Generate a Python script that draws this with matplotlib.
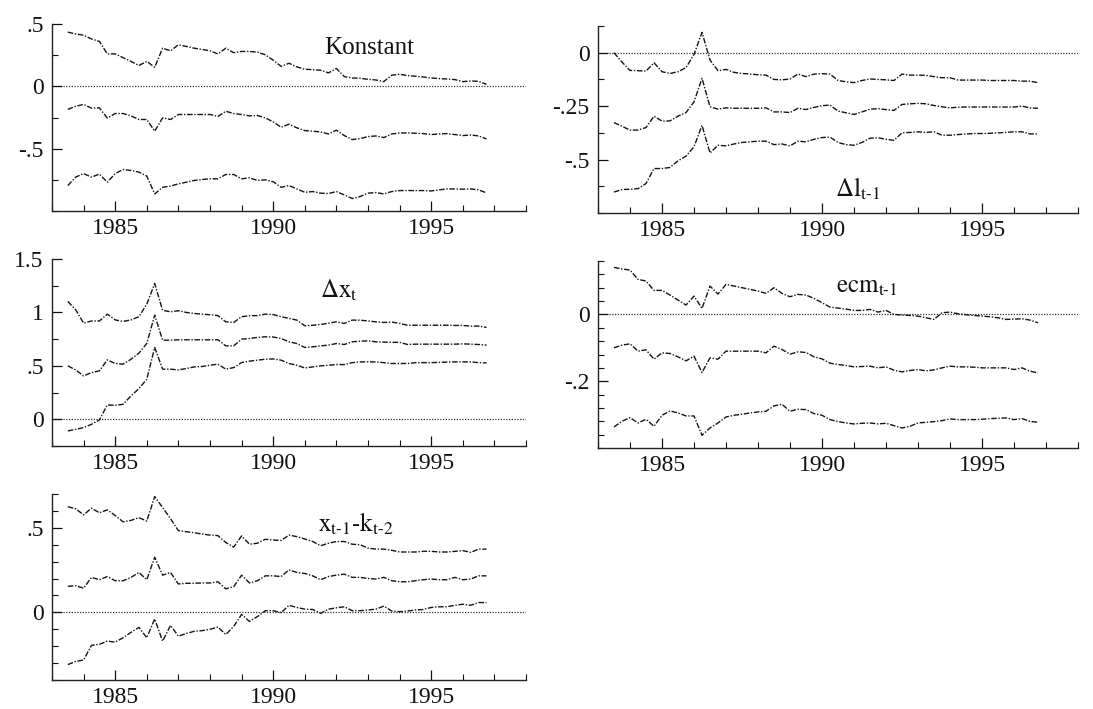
import matplotlib
matplotlib.use('Agg')
import matplotlib.pyplot as plt
import numpy as np
from matplotlib.ticker import FixedLocator, MultipleLocator, FuncFormatter

plt.rcParams['font.family'] = ['Liberation Serif', 'DejaVu Serif']
plt.rcParams['mathtext.fontset'] = 'stix'

# quarterly recursive estimates, 1983:3 - 1996:4
dates = 1983.5 + 0.25 * np.arange(54)

konstant_hi = [0.435, 0.42, 0.41, 0.38, 0.36, 0.26, 0.26, 0.23, 0.20, 0.167, 0.20, 0.153,
               0.306, 0.285, 0.333, 0.32, 0.306, 0.296, 0.285, 0.26, 0.306, 0.27, 0.28, 0.28,
               0.274, 0.253, 0.21, 0.16, 0.185, 0.156, 0.137, 0.134, 0.129, 0.108, 0.143, 0.078,
               0.067, 0.065, 0.056, 0.051, 0.038, 0.089, 0.097, 0.086, 0.081, 0.075, 0.067, 0.062,
               0.059, 0.054, 0.038, 0.043, 0.040, 0.016]
konstant_mid = [-0.185, -0.16, -0.145, -0.175, -0.172, -0.255, -0.218, -0.218, -0.237, -0.266,
                -0.266, -0.36, -0.253, -0.266, -0.226, -0.226, -0.226, -0.226, -0.226, -0.242,
                -0.20, -0.218, -0.226, -0.237, -0.234, -0.253, -0.285, -0.328, -0.304, -0.333,
                -0.355, -0.36, -0.366, -0.382, -0.352, -0.395, -0.427, -0.419, -0.403, -0.398,
                -0.411, -0.382, -0.374, -0.374, -0.376, -0.379, -0.387, -0.382, -0.379, -0.387,
                -0.395, -0.39, -0.398, -0.422]
konstant_lo = [-0.796, -0.728, -0.70, -0.728, -0.704, -0.769, -0.70, -0.667, -0.675, -0.688,
               -0.72, -0.863, -0.81, -0.80, -0.782, -0.769, -0.755, -0.747, -0.742, -0.742,
               -0.707, -0.707, -0.742, -0.734, -0.755, -0.75, -0.765, -0.81, -0.796, -0.823,
               -0.85, -0.844, -0.857, -0.86, -0.844, -0.871, -0.90, -0.884, -0.857, -0.852,
               -0.863, -0.844, -0.836, -0.836, -0.836, -0.836, -0.839, -0.83, -0.823, -0.823,
               -0.825, -0.823, -0.83, -0.855]

dl_hi = [0.0, -0.044, -0.083, -0.084, -0.086, -0.047, -0.089, -0.097, -0.089, -0.07, -0.008,
         0.095, -0.034, -0.084, -0.078, -0.092, -0.097, -0.10, -0.103, -0.105, -0.125, -0.127,
         -0.123, -0.10, -0.112, -0.10, -0.098, -0.10, -0.13, -0.136, -0.14, -0.13, -0.123,
         -0.125, -0.127, -0.13, -0.10, -0.105, -0.105, -0.106, -0.112, -0.117, -0.117, -0.128,
         -0.128, -0.128, -0.128, -0.13, -0.13, -0.13, -0.13, -0.133, -0.133, -0.14]
dl_mid = [-0.327, -0.344, -0.362, -0.362, -0.35, -0.297, -0.32, -0.319, -0.297, -0.28, -0.23,
          -0.12, -0.253, -0.264, -0.258, -0.26, -0.26, -0.26, -0.26, -0.258, -0.277, -0.277,
          -0.28, -0.26, -0.266, -0.256, -0.248, -0.245, -0.273, -0.281, -0.289, -0.277, -0.264,
          -0.262, -0.266, -0.27, -0.242, -0.239, -0.237, -0.239, -0.247, -0.253, -0.258, -0.255,
          -0.254, -0.254, -0.254, -0.254, -0.254, -0.254, -0.254, -0.25, -0.258, -0.26]
dl_lo = [-0.652, -0.64, -0.639, -0.636, -0.612, -0.542, -0.542, -0.537, -0.506, -0.484, -0.44,
         -0.34, -0.469, -0.433, -0.436, -0.427, -0.42, -0.417, -0.414, -0.414, -0.43, -0.427,
         -0.436, -0.414, -0.417, -0.405, -0.397, -0.395, -0.42, -0.43, -0.433, -0.42, -0.40,
         -0.398, -0.405, -0.41, -0.375, -0.373, -0.37, -0.373, -0.37, -0.386, -0.386, -0.383,
         -0.38, -0.378, -0.378, -0.377, -0.375, -0.373, -0.37, -0.37, -0.38, -0.38]

dx_hi = [1.103, 1.025, 0.90, 0.92, 0.92, 0.984, 0.93, 0.916, 0.93, 0.96, 1.078, 1.27, 1.02,
         1.006, 1.016, 1.0, 0.99, 0.984, 0.978, 0.97, 0.912, 0.906, 0.96, 0.97, 0.97, 0.984,
         0.98, 0.96, 0.944, 0.928, 0.875, 0.88, 0.887, 0.90, 0.912, 0.897, 0.928, 0.928, 0.92,
         0.912, 0.906, 0.91, 0.897, 0.88, 0.88, 0.88, 0.88, 0.88, 0.88, 0.878, 0.878, 0.872,
         0.872, 0.86]
dx_mid = [0.50, 0.462, 0.406, 0.437, 0.453, 0.556, 0.522, 0.516, 0.562, 0.619, 0.71, 0.975,
          0.74, 0.74, 0.744, 0.744, 0.744, 0.744, 0.744, 0.744, 0.687, 0.687, 0.75, 0.756,
          0.766, 0.772, 0.77, 0.756, 0.725, 0.709, 0.672, 0.678, 0.687, 0.694, 0.709, 0.70,
          0.725, 0.731, 0.734, 0.725, 0.722, 0.72, 0.72, 0.70, 0.703, 0.703, 0.703, 0.703,
          0.703, 0.703, 0.706, 0.703, 0.70, 0.694]
dx_lo = [-0.109, -0.094, -0.078, -0.047, -0.006, 0.134, 0.131, 0.14, 0.219, 0.287, 0.375,
         0.672, 0.469, 0.469, 0.462, 0.475, 0.49, 0.494, 0.506, 0.516, 0.469, 0.484, 0.531,
         0.544, 0.553, 0.562, 0.565, 0.553, 0.522, 0.506, 0.48, 0.49, 0.50, 0.506, 0.512,
         0.512, 0.53, 0.537, 0.537, 0.537, 0.53, 0.522, 0.522, 0.522, 0.53, 0.53, 0.53, 0.533,
         0.535, 0.537, 0.537, 0.537, 0.53, 0.528]

ecm_hi = [0.141, 0.136, 0.133, 0.105, 0.10, 0.072, 0.072, 0.058, 0.043, 0.028, 0.055, 0.018,
          0.085, 0.061, 0.09, 0.085, 0.08, 0.075, 0.07, 0.063, 0.08, 0.063, 0.053, 0.06, 0.058,
          0.048, 0.035, 0.022, 0.019, 0.016, 0.012, 0.012, 0.015, 0.007, 0.012, 0.0, -0.002,
          -0.003, -0.005, -0.01, -0.015, 0.005, 0.007, 0.002, -0.001, -0.003, -0.005, -0.007,
          -0.01, -0.015, -0.014, -0.013, -0.017, -0.025]
ecm_mid = [-0.10, -0.092, -0.088, -0.11, -0.106, -0.134, -0.115, -0.117, -0.127, -0.139,
           -0.125, -0.174, -0.13, -0.134, -0.11, -0.11, -0.11, -0.11, -0.11, -0.115, -0.095,
           -0.105, -0.119, -0.112, -0.114, -0.127, -0.133, -0.146, -0.15, -0.153, -0.157,
           -0.156, -0.155, -0.16, -0.157, -0.167, -0.172, -0.168, -0.165, -0.169, -0.166,
           -0.16, -0.155, -0.157, -0.157, -0.158, -0.16, -0.16, -0.16, -0.16, -0.165, -0.16,
           -0.17, -0.175]
ecm_lo = [-0.337, -0.32, -0.309, -0.325, -0.314, -0.335, -0.302, -0.289, -0.295, -0.304,
          -0.304, -0.362, -0.34, -0.325, -0.307, -0.302, -0.299, -0.295, -0.292, -0.29, -0.274,
          -0.269, -0.29, -0.284, -0.285, -0.297, -0.302, -0.315, -0.321, -0.325, -0.328,
          -0.326, -0.325, -0.328, -0.326, -0.333, -0.34, -0.335, -0.325, -0.323, -0.321,
          -0.318, -0.313, -0.315, -0.315, -0.315, -0.314, -0.312, -0.311, -0.31, -0.315,
          -0.312, -0.32, -0.323]

xk_hi = [0.625, 0.612, 0.577, 0.616, 0.589, 0.606, 0.573, 0.535, 0.544, 0.56, 0.54, 0.685,
         0.62, 0.554, 0.483, 0.477, 0.471, 0.463, 0.457, 0.454, 0.413, 0.386, 0.452, 0.403,
         0.409, 0.432, 0.428, 0.425, 0.457, 0.448, 0.434, 0.419, 0.394, 0.409, 0.419, 0.419,
         0.403, 0.40, 0.38, 0.374, 0.374, 0.367, 0.357, 0.357, 0.357, 0.361, 0.361, 0.357,
         0.357, 0.361, 0.365, 0.355, 0.374, 0.374]
xk_mid = [0.154, 0.158, 0.143, 0.207, 0.193, 0.212, 0.187, 0.187, 0.207, 0.236, 0.193, 0.326,
          0.22, 0.236, 0.168, 0.172, 0.172, 0.174, 0.174, 0.181, 0.139, 0.152, 0.22, 0.174,
          0.187, 0.216, 0.216, 0.212, 0.251, 0.236, 0.23, 0.216, 0.193, 0.212, 0.22, 0.226,
          0.207, 0.207, 0.20, 0.197, 0.207, 0.187, 0.181, 0.181, 0.187, 0.193, 0.197, 0.193,
          0.193, 0.207, 0.193, 0.197, 0.216, 0.216]
xk_lo = [-0.309, -0.29, -0.282, -0.195, -0.189, -0.17, -0.176, -0.15, -0.118, -0.089, -0.15,
         -0.039, -0.17, -0.077, -0.141, -0.125, -0.112, -0.108, -0.10, -0.087, -0.131, -0.083,
         -0.012, -0.054, -0.025, 0.01, 0.01, -0.002, 0.042, 0.029, 0.019, 0.017, -0.006, 0.019,
         0.027, 0.033, 0.01, 0.01, 0.014, 0.019, 0.037, 0.008, 0.004, 0.008, 0.014, 0.017,
         0.029, 0.033, 0.033, 0.042, 0.048, 0.042, 0.058, 0.058]

titles = ['Konstant', r'$\Delta\text{l}_{\text{t-1}}$', r'$\Delta\text{x}_{\text{t}}$',
          r'$\text{ecm}_{\text{t-1}}$', r'$\text{x}_{\text{t-1}}\text{-k}_{\text{t-2}}$']
series = [(konstant_hi, konstant_mid, konstant_lo), (dl_hi, dl_mid, dl_lo),
          (dx_hi, dx_mid, dx_lo), (ecm_hi, ecm_mid, ecm_lo), (xk_hi, xk_mid, xk_lo)]


def short_num(v, pos=None):
    s = f'{v:g}'
    if s.startswith('0.'):
        s = s[1:]
    elif s.startswith('-0.'):
        s = '-' + s[2:]
    return s


W, H = 1093, 709
fig = plt.figure(figsize=(W / 100, H / 100), dpi=100)

# pixel boxes: left, top, width, height
boxes = [(52, 24, 474, 187), (598, 26, 480, 187), (52, 259, 474, 187),
         (598, 261, 480, 187), (52, 494, 474, 186)]
ylims = [(-1.0, 0.5), (-0.75, 0.125), (-0.25, 1.5), (-0.4, 0.16), (-0.4, 0.7)]
major_y = [[-0.5, 0, 0.5], [-0.5, -0.25, 0], [0, 0.5, 1, 1.5], [-0.2, 0], [0, 0.5]]
minor_y = [0.25, 0.125, 0.25, 0.04, 0.1]
title_pos = [(0.67, 0.87), (0.54, 0.13), (0.605, 0.83), (0.56, 0.86), (0.64, 0.84)]

band_style = dict(color='#151515', linewidth=1.0, linestyle=(0, (4, 1.2, 1, 1.2)))

for i, (hi, mid, lo) in enumerate(series):
    l, t, w, h = boxes[i]
    ax = fig.add_axes([l / W, 1 - (t + h) / H, w / W, h / H])
    ax.axhline(0, color='#333333', linewidth=0.9, linestyle=(0, (1, 1.2)), zorder=1)
    for s in (hi, mid, lo):
        ax.plot(dates, s, **band_style, zorder=2)

    ax.set_xlim(1983, 1998)
    ax.set_ylim(*ylims[i])
    ax.spines['top'].set_visible(False)
    ax.spines['right'].set_visible(False)
    for sp in ('left', 'bottom'):
        ax.spines[sp].set_linewidth(1.0)
        ax.spines[sp].set_color('#222222')

    ax.xaxis.set_major_locator(FixedLocator([1985, 1990, 1995]))
    ax.xaxis.set_minor_locator(MultipleLocator(1))
    ax.yaxis.set_major_locator(FixedLocator(major_y[i]))
    ax.yaxis.set_minor_locator(MultipleLocator(minor_y[i]))
    ax.yaxis.set_major_formatter(FuncFormatter(short_num))
    ax.tick_params(which='major', direction='in', length=7, width=0.9, labelsize=17,
                   colors='#111111')
    ax.tick_params(which='minor', direction='in', length=4, width=0.8, colors='#111111')
    ax.tick_params(axis='x', which='major', pad=5)
    ax.tick_params(axis='y', which='major', pad=6)

    tx, ty = title_pos[i]
    ax.text(tx, ty, titles[i], transform=ax.transAxes, fontsize=18,
            ha='center', va='center', color='#111111')

fig.savefig('out.png', dpi=100)
